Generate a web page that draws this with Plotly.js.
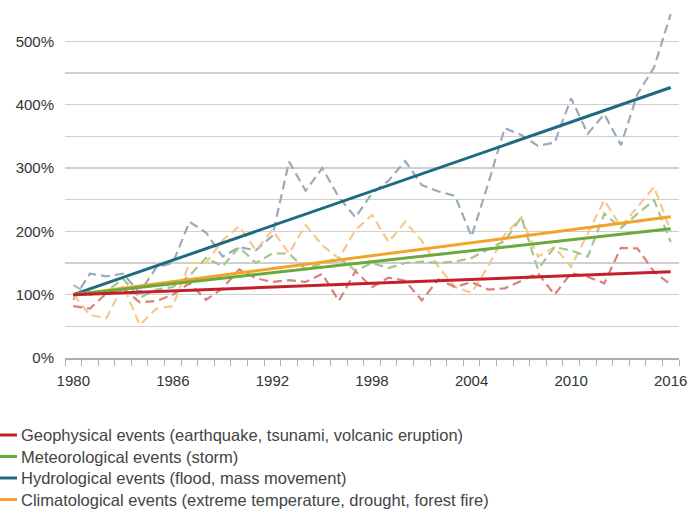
<!DOCTYPE html>
<html>
<head>
<meta charset="utf-8">
<script src="https://cdn.plot.ly/plotly-3.0.1.min.js"></script>
<style>html,body{margin:0;padding:0;background:#fff;}#chart{width:689px;height:511px;}</style>
</head>
<body>
<div id="chart"></div>
<script>
// Years 1980..2016
const years = [1980,1981,1982,1983,1984,1985,1986,1987,1988,1989,1990,1991,1992,1993,1994,1995,1996,1997,1998,1999,2000,2001,2002,2003,2004,2005,2006,2007,2008,2009,2010,2011,2012,2013,2014,2015,2016];
const tickYears = [1980,1986,1992,1998,2004,2010,2016];

// Annual values (index, 1980 = 100%), dashed lines
const geophysical   = [82,78,102,110,88,90,100,118,92,110,140,126,120,123,120,133,90,137,112,127,122,91,124,112,120,108,110,122,134,100,134,128,118,174,173,136,116];
const meteorological= [115,100,105,125,95,108,112,130,158,145,175,150,165,165,140,150,158,138,150,142,150,152,150,152,158,172,185,222,140,175,170,160,228,205,228,249,183];
const hydrological  = [92,133,129,133,103,143,150,215,198,160,175,170,193,310,264,300,254,222,260,280,311,273,263,256,192,275,363,352,335,340,410,354,385,336,417,459,543];
const climatological= [100,68,63,115,52,78,82,150,150,186,208,170,202,165,210,178,157,202,226,183,215,185,144,112,103,145,195,222,160,175,144,197,249,207,238,270,200];

// Trend lines (start 1980, end 2016)
const trendYears = [1980, 2016];
const geoTrend   = [100, 136];
const metTrend   = [100, 204];
const hydTrend   = [100, 427];
const cliTrend   = [100, 223];

const names = [
  'Geophysical events (earthquake, tsunami, volcanic eruption)',
  'Meteorological events (storm)',
  'Hydrological events (flood, mass movement)',
  'Climatological events (extreme temperature, drought, forest fire)'
];
const trendColors = ['#c3202c', '#6aaa3a', '#1e6a80', '#f3a32a'];
const dashColors  = ['#d98378', '#a3c58e', '#9aabb9', '#f6c98a'];

const series = [geophysical, meteorological, hydrological, climatological];
const trends = [geoTrend, metTrend, hydTrend, cliTrend];

const W = 689, H = 511;
const M = {l: 65, r: 10, t: 9, b: 153};
const plotW = W - M.l - M.r, plotH = H - M.t - M.b;
const px2x = p => (p - M.l) / plotW;          // pixel -> paper x
const px2y = p => (H - M.b - p) / plotH;      // pixel -> paper y

const traces = [];
[2,3,1,0].forEach(i => {
  traces.push({
    x: years, y: series[i], type: 'scatter', mode: 'lines',
    line: {color: dashColors[i], width: 2.2, dash: '9px,5px'},
    showlegend: false, hoverinfo: 'skip'
  });
});
[2,3,1,0].forEach(i => {
  traces.push({
    x: trendYears, y: trends[i], type: 'scatter', mode: 'lines',
    line: {color: trendColors[i], width: 3},
    name: names[i], showlegend: false
  });
});

// legend built from names/colours (rows below the chart)
const legendRowY = [435, 456.5, 478, 499.5];
const shapes = [], annotations = [];
names.forEach((n, i) => {
  shapes.push({type: 'line', xref: 'paper', yref: 'paper',
    x0: px2x(0), x1: px2x(17), y0: px2y(legendRowY[i]), y1: px2y(legendRowY[i]),
    line: {color: trendColors[i], width: 3}});
  annotations.push({xref: 'paper', yref: 'paper', x: px2x(19), y: px2y(legendRowY[i]),
    xanchor: 'left', yanchor: 'middle', showarrow: false, text: n,
    font: {size: 16.5, color: '#444'}});
});

const layout = {
  width: W, height: H,
  margin: {l: M.l, r: M.r, t: M.t, b: M.b, autoexpand: false},
  paper_bgcolor: '#fff', plot_bgcolor: '#fff',
  font: {family: '"Liberation Sans", Arial, sans-serif', size: 15, color: '#333'},
  showlegend: false,
  shapes: shapes, annotations: annotations,
  xaxis: {
    range: [1979.5, 2016.5],
    tickmode: 'array', tickvals: tickYears, ticktext: tickYears.map(String),
    ticks: '', showgrid: false, zeroline: false,
    showline: true, linecolor: '#b0b0b0', linewidth: 1.5,
    ticklabelstandoff: 8,
    minor: {tickmode: 'linear', tick0: 1979.5, dtick: 1, ticks: 'outside', ticklen: 6, tickcolor: '#b0b0b0', tickwidth: 1, showgrid: false},
    tickfont: {size: 15, color: '#333'}
  },
  yaxis: {
    range: [0, 551],
    tickmode: 'linear', tick0: 0, dtick: 100, ticksuffix: '%',
    showgrid: true, gridcolor: '#cfcfcf', gridwidth: 1.5,
    minor: {tickmode: 'linear', tick0: 0, dtick: 50, showgrid: true, gridcolor: '#cfcfcf', gridwidth: 1.5, ticks: ''},
    zeroline: false, showline: false, ticks: '',
    ticklabelstandoff: 10,
    tickfont: {size: 15, color: '#333'}
  }
};

Plotly.newPlot('chart', traces, layout, {displayModeBar: false, staticPlot: true});
</script>
</body>
</html>
